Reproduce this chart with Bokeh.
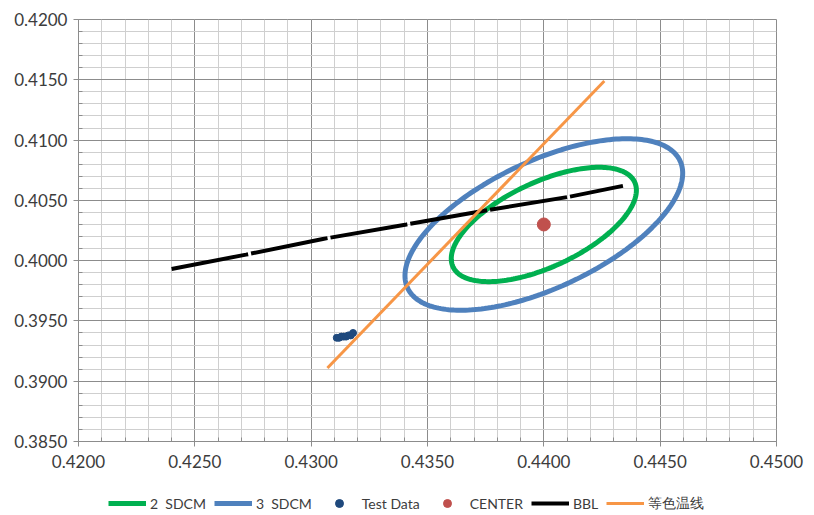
import numpy as np
from bokeh.plotting import figure
from bokeh.layouts import column
from bokeh.models import Range1d, FixedTicker, NumeralTickFormatter, Legend, LegendItem
from bokeh.embed import file_html
from bokeh.resources import INLINE

# ---- data ----
x_ticks = [0.4200, 0.4250, 0.4300, 0.4350, 0.4400, 0.4450, 0.4500]
y_ticks = [0.3850, 0.3900, 0.3950, 0.4000, 0.4050, 0.4100, 0.4150, 0.4200]
minor_step = 0.001

center_x = [0.4400]
center_y = [0.4030]

# MacAdam (SDCM) ellipse, 1-step parameters
step_a = 0.00278
step_b = 0.00136
step_theta_deg = 53.22
sdcm_steps = [2, 3]

test_x = [0.4311, 0.4312, 0.4313, 0.4314, 0.4315, 0.4316, 0.4317, 0.4318]
test_y = [0.3936, 0.3936, 0.3937, 0.3937, 0.3937, 0.3938, 0.3938, 0.3940]

bbl_x = [0.4240, 0.4272, 0.4305, 0.4341, 0.4376, 0.4411, 0.4434]
bbl_y = [0.3993, 0.4005, 0.4018, 0.4030, 0.4042, 0.4053, 0.4062]

iso_x = [0.4307, 0.4426]
iso_y = [0.3911, 0.4149]

labels = ["2  SDCM", "3  SDCM", "Test Data", "CENTER", "BBL", "等色温线"]

# ---- main figure ----
p = figure(frame_width=698, frame_height=422,
           x_range=Range1d(x_ticks[0], x_ticks[-1]),
           y_range=Range1d(y_ticks[0], y_ticks[-1]),
           output_backend="svg", toolbar_location=None,
           min_border_left=78, min_border_right=30,
           min_border_top=19, min_border_bottom=40)
p.background_fill_color = "white"
p.border_fill_color = "white"
p.outline_line_color = "#8c8c8c"

x_minor = list(np.round(np.arange(x_ticks[0], x_ticks[-1] + minor_step / 2, minor_step), 4))
y_minor = list(np.round(np.arange(y_ticks[0], y_ticks[-1] + minor_step / 2, minor_step), 4))

for ax, major, minor in ((p.xaxis[0], x_ticks, x_minor), (p.yaxis[0], y_ticks, y_minor)):
    ax.ticker = FixedTicker(ticks=major, minor_ticks=minor)
    ax.formatter = NumeralTickFormatter(format="0.0000")
    ax.axis_line_color = "#8c8c8c"
    ax.major_tick_line_color = "#8c8c8c"
    ax.minor_tick_line_color = "#8c8c8c"
    ax.major_tick_out = 5
    ax.major_tick_in = 0
    ax.minor_tick_in = 4
    ax.minor_tick_out = 0
    ax.major_label_text_font = "Lato"
    ax.major_label_text_font_size = "17px"
    ax.major_label_text_color = "#3c3c3c"
p.xaxis[0].major_label_standoff = 8
p.yaxis[0].major_label_standoff = 6

for g in (p.xgrid[0], p.ygrid[0]):
    g.grid_line_color = "#8c8c8c"
    g.grid_line_width = 1
    g.minor_grid_line_color = "#cfcfcf"
    g.minor_grid_line_width = 1

styles = [
    dict(kind="line", line_color="#00b050", line_width=5),
    dict(kind="line", line_color="#4f81bd", line_width=5),
    dict(kind="dot", size=7, fill_color="#1f497d", line_color="#1f497d"),
    dict(kind="dot", size=13, fill_color="#c0504d", line_color="#c0504d"),
    dict(kind="line", line_color="black", line_width=4),
    dict(kind="line", line_color="#f79646", line_width=3),
]

# ellipses from their parameters
t = np.linspace(0, 2 * np.pi, 241)
th = np.deg2rad(step_theta_deg)
for n, st in zip(sdcm_steps, styles[:2]):
    a, b = n * step_a, n * step_b
    ex = center_x[0] + a * np.cos(t) * np.cos(th) - b * np.sin(t) * np.sin(th)
    ey = center_y[0] + a * np.cos(t) * np.sin(th) + b * np.sin(t) * np.cos(th)
    p.line(ex, ey, line_color=st["line_color"], line_width=st["line_width"])

p.scatter(test_x, test_y, size=7, fill_color="#1f497d", line_color="#1f497d")
p.scatter(center_x, center_y, size=13, fill_color="#c0504d", line_color="#c0504d")
p.line(bbl_x, bbl_y, line_color="black", line_width=4, line_dash="78 3")
p.line(iso_x, iso_y, line_color="#f79646", line_width=3)

# ---- legend strip below ----
lg = figure(width=806, height=34, x_range=Range1d(0, 1), y_range=Range1d(0, 1),
            x_axis_type=None, y_axis_type=None, output_backend="svg",
            toolbar_location=None, min_border=0)
lg.outline_line_color = None
lg.grid.visible = False
lg.background_fill_color = "white"
lg.border_fill_color = "white"

blank = np.array([np.nan])  # legend-only renderers: nothing drawn in the strip
items = []
for lab, st in zip(labels, styles):
    if st["kind"] == "line":
        r = lg.line(blank, blank, line_color=st["line_color"], line_width=st["line_width"])
    else:
        r = lg.scatter(blank, blank, size=st["size"], fill_color=st["fill_color"],
                       line_color=st["line_color"])
    items.append(LegendItem(label=lab, renderers=[r]))

legend = Legend(items=items, orientation="horizontal", location=(30, 2),
                glyph_width=38, glyph_height=20, label_standoff=4, spacing=8,
                padding=0, margin=0, border_line_color=None, background_fill_alpha=0,
                label_text_font="Lato", label_text_font_size="14px",
                label_text_color="#3c3c3c")
lg.add_layout(legend, "center")

layout = column(p, lg, spacing=0)
open("out.html", "w").write(file_html(layout, INLINE))
